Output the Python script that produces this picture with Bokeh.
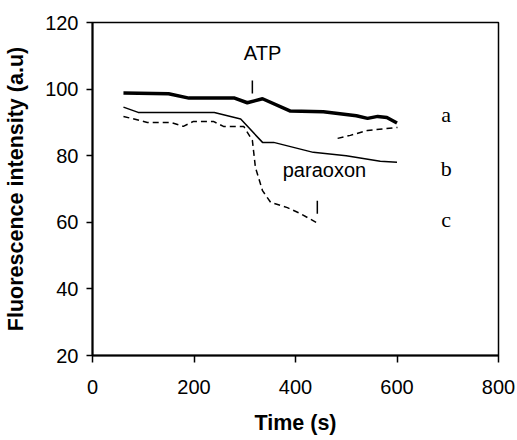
from bokeh.plotting import figure
from bokeh.models import Range1d, Label
from bokeh.embed import file_html
from bokeh.resources import INLINE

# Curve a (thick solid)
time_a = [61, 150, 190, 280, 305, 335, 390, 455, 520, 542, 562, 580, 600]
fluor_a = [98.8, 98.6, 97.3, 97.3, 95.9, 97.1, 93.4, 93.2, 92.0, 91.2, 91.8, 91.5, 89.8]

# Curve b (thin solid)
time_b = [61, 90, 240, 292, 335, 357, 435, 500, 567, 600]
fluor_b = [94.6, 93.0, 93.0, 91.0, 84.0, 84.0, 81.0, 80.0, 78.3, 78.0]

# Curve c (dashed), two segments
time_c1 = [61, 108, 154, 179, 199, 238, 258, 298, 315, 321, 335, 351, 384, 410, 445]
fluor_c1 = [91.8, 90.0, 90.0, 88.8, 90.3, 90.3, 88.8, 88.8, 84.6, 76.5, 69.5, 66.0, 64.4, 62.6, 59.6]
time_c2 = [483, 508, 542, 601]
fluor_c2 = [85.2, 86.1, 87.6, 88.5]

x_ticks = [0, 200, 400, 600, 800]
y_ticks = [20, 40, 60, 80, 100, 120]

SANS = "Liberation Sans"
SERIF = "Liberation Serif"

p = figure(width=517, height=440, output_backend="svg", toolbar_location=None,
           x_range=Range1d(0, 800), y_range=Range1d(20, 120),
           min_border_left=92, min_border_right=19, min_border_top=22,
           min_border_bottom=85, background_fill_color="white",
           border_fill_color="white")

p.xgrid.visible = False
p.ygrid.visible = False
p.outline_line_color = "black"
p.outline_line_width = 1.5

for ax in (p.xaxis[0], p.yaxis[0]):
    ax.axis_line_color = "black"
    ax.axis_line_width = 2
    ax.major_tick_line_color = "black"
    ax.major_tick_line_width = 1.5
    ax.major_tick_in = 0
    ax.minor_tick_line_color = None
    ax.major_label_text_font = SANS
    ax.major_label_text_font_size = "20px"
    ax.major_label_text_color = "black"
    ax.axis_label_text_font = SANS
    ax.axis_label_text_font_style = "bold"
    ax.axis_label_text_font_size = "21.5px"
    ax.axis_label_text_color = "black"

p.xaxis.ticker = x_ticks
p.yaxis.ticker = y_ticks
p.xaxis.major_tick_out = 7
p.yaxis.major_tick_out = 6
p.xaxis.major_label_standoff = 17
p.yaxis.major_label_standoff = 8
p.xaxis.axis_label = "Time (s)"
p.yaxis.axis_label = "Fluorescence intensity (a.u)"
p.xaxis.axis_label_standoff = 14
p.yaxis.axis_label_standoff = 14

p.line(time_a, fluor_a, line_color="black", line_width=3.5)
p.line(time_b, fluor_b, line_color="black", line_width=1.5)
p.line(time_c1, fluor_c1, line_color="black", line_width=1.5, line_dash="6 4")
p.line(time_c2, fluor_c2, line_color="black", line_width=1.5, line_dash="6 4")

# Injection markers
p.segment(x0=[315, 443], y0=[98.7, 62.6], x1=[315, 443], y1=[102.6, 66.5],
          line_color="black", line_width=1.5)

p.add_layout(Label(x=335, y=110.9, text="ATP", text_font=SANS, text_font_size="20px",
                   text_align="center", text_baseline="alphabetic", text_color="black"))
p.add_layout(Label(x=457, y=75.6, text="paraoxon", text_font=SANS, text_font_size="20px",
                   text_align="center", text_baseline="alphabetic", text_color="black"))

for lab, yy in (("a", 92.4), ("b", 76.2), ("c", 60.8)):
    p.add_layout(Label(x=697, y=yy, text=lab, text_font=SERIF, text_font_size="22px",
                       text_align="center", text_baseline="alphabetic", text_color="black"))

open("out.html", "w").write(file_html(p, INLINE))
